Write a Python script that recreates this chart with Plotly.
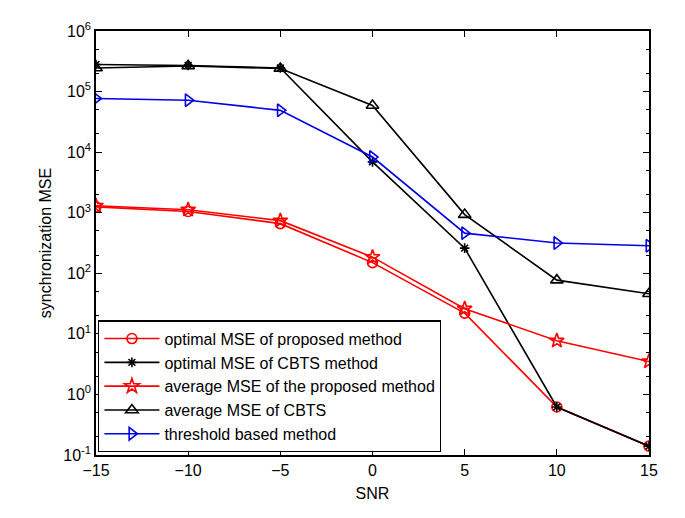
import plotly.graph_objects as go

# SNR points (dB)
snr = [-15, -10, -5, 0, 5, 10, 15]

# synchronization MSE
opt_proposed = [1250, 1050, 660, 150, 22, 0.62, 0.14]
opt_cbts = [280000, 270000, 245000, 6900, 260, 0.62, 0.14]
avg_proposed = [1300, 1120, 740, 185, 26, 7.7, 3.5]
avg_cbts = [245000, 265000, 240000, 59000, 930, 77, 46]
threshold = [77000, 72000, 49000, 8300, 460, 316, 285]

y_tickvals = [1e-1, 1, 10, 1e2, 1e3, 1e4, 1e5, 1e6]
y_ticktext = ["10<sup>-1</sup>", "10<sup>0</sup>", "10<sup>1</sup>", "10<sup>2</sup>",
              "10<sup>3</sup>", "10<sup>4</sup>", "10<sup>5</sup>", "10<sup>6</sup>"]

FONT = "Liberation Sans, Arial, sans-serif"

series = [
    ("optimal MSE of proposed method", opt_proposed, "red", "circle-open", 10),
    ("optimal MSE of CBTS method", opt_cbts, "black", "asterisk-open", 8),
    ("average MSE of the proposed method", avg_proposed, "red", "star-open", 11),
    ("average MSE of CBTS", avg_cbts, "black", "triangle-up-open", 11),
    ("threshold based method", threshold, "#0000e6", "triangle-right-open", 11),
]

fig = go.Figure()
for name, vals, color, symbol, size in series:
    fig.add_trace(go.Scatter(
        x=snr, y=vals, name=name, mode="lines+markers",
        line=dict(color=color, width=1.6),
        marker=dict(symbol=symbol, size=size, color=color,
                    line=dict(color=color, width=1.6)),
    ))

# the page body adds an 8px offset, so margins are shifted to compensate
fig.update_layout(
    width=685, height=518,
    margin=dict(l=88, r=44, t=13, b=71),
    paper_bgcolor="white", plot_bgcolor="white",
    font=dict(family=FONT, size=16, color="black"),
    legend=dict(x=0.004, y=0.006, xanchor="left", yanchor="bottom",
                bgcolor="white", bordercolor="black", borderwidth=1.2,
                font=dict(size=16), tracegroupgap=0, itemwidth=55),
    xaxis=dict(
        title=dict(text="SNR", standoff=10, font=dict(size=16)),
        range=[-15, 15], tickvals=[-15, -10, -5, 0, 5, 10, 15],
        ticks="inside", ticklen=6, tickcolor="black",
        showline=True, linecolor="black", linewidth=1.5, mirror="ticks",
        showgrid=False, zeroline=False,
    ),
    yaxis=dict(
        title=dict(text="synchronization MSE", standoff=8, font=dict(size=16)),
        type="log", range=[-1, 6],
        tickvals=y_tickvals, ticktext=y_ticktext,
        ticks="inside", ticklen=6, tickcolor="black",
        minor=dict(ticks="inside", ticklen=3, tickcolor="black", showgrid=False),
        showline=True, linecolor="black", linewidth=1.5, mirror="ticks",
        showgrid=False, zeroline=False,
    ),
)

fig.write_html("out.html")
